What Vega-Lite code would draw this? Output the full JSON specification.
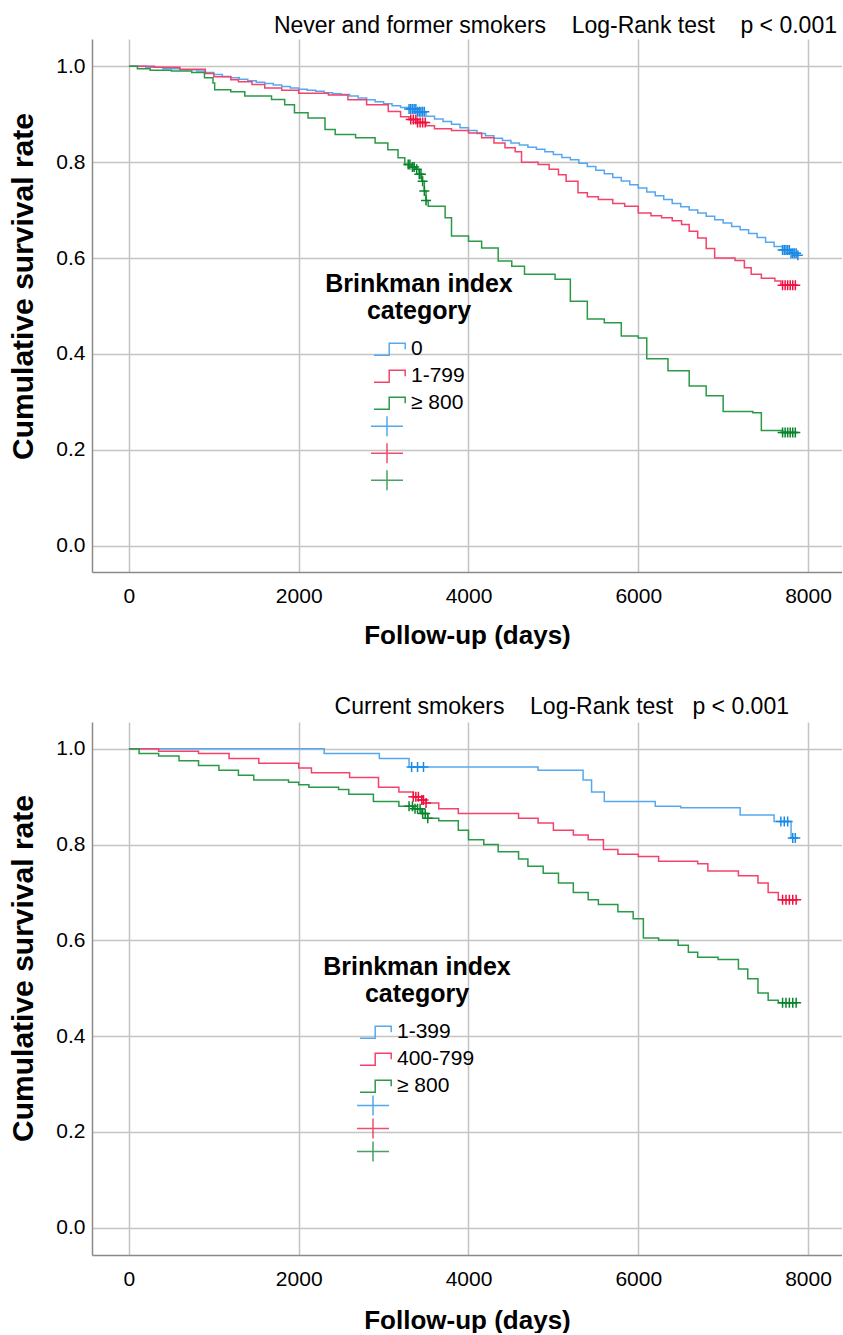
{
  "$schema": "https://vega.github.io/schema/vega-lite/v6.json",
  "background": "white",
  "padding": {"left": 8, "top": 15, "right": 0, "bottom": 0},
  "config": {
    "font": "Liberation Sans",
    "view": {"stroke": null},
    "axis": {
      "gridColor": "#c4c4c4", "gridWidth": 1.5,
      "domainColor": "#8a8a8a", "domainWidth": 1.5,
      "ticks": false, "tickSize": 0,
      "labelFontSize": 21, "labelColor": "#000000", "labelFont": "Liberation Sans",
      "titleFontSize": 26, "titleColor": "#000000", "titleFontWeight": "bold", "titleFont": "Liberation Sans"
    },
    "legend": {
      "orient": "none", "padding": 0,
      "labelFontSize": 21, "labelColor": "#000000", "labelFont": "Liberation Sans", "labelLimit": 300,
      "titleFontSize": 25, "titleFontWeight": "bold", "titleColor": "#000000", "titleFont": "Liberation Sans", "titleLimit": 400,
      "titleAlign": "center", "titleAnchor": "middle", "titleLineHeight": 27, "titlePadding": 12,
      "symbolSize": 1024, "symbolStrokeWidth": 1.5, "labelOffset": 4, "rowPadding": 0
    }
  },
  "datasets": {
    "top_curve": [
      {"group": "0", "day": 0, "s": 1}, {"group": "0", "day": 200, "s": 0.998}, {"group": "0", "day": 400, "s": 0.995}, {"group": "0", "day": 600, "s": 0.993}, {"group": "0", "day": 800, "s": 0.99}, {"group": "0", "day": 900, "s": 0.987}, {"group": "0", "day": 1000, "s": 0.983}, {"group": "0", "day": 1100, "s": 0.979}, {"group": "0", "day": 1200, "s": 0.976}, {"group": "0", "day": 1300, "s": 0.973}, {"group": "0", "day": 1400, "s": 0.97}, {"group": "0", "day": 1500, "s": 0.967}, {"group": "0", "day": 1600, "s": 0.964}, {"group": "0", "day": 1700, "s": 0.961}, {"group": "0", "day": 1800, "s": 0.958}, {"group": "0", "day": 1900, "s": 0.955}, {"group": "0", "day": 2000, "s": 0.952}, {"group": "0", "day": 2100, "s": 0.95}, {"group": "0", "day": 2200, "s": 0.948}, {"group": "0", "day": 2300, "s": 0.945}, {"group": "0", "day": 2400, "s": 0.943}, {"group": "0", "day": 2500, "s": 0.941}, {"group": "0", "day": 2600, "s": 0.938}, {"group": "0", "day": 2700, "s": 0.934}, {"group": "0", "day": 2800, "s": 0.93}, {"group": "0", "day": 2900, "s": 0.926}, {"group": "0", "day": 3000, "s": 0.922}, {"group": "0", "day": 3100, "s": 0.918}, {"group": "0", "day": 3200, "s": 0.914}, {"group": "0", "day": 3300, "s": 0.911}, {"group": "0", "day": 3400, "s": 0.905}, {"group": "0", "day": 3500, "s": 0.896}, {"group": "0", "day": 3600, "s": 0.89}, {"group": "0", "day": 3700, "s": 0.885}, {"group": "0", "day": 3800, "s": 0.879}, {"group": "0", "day": 3900, "s": 0.872}, {"group": "0", "day": 4000, "s": 0.866}, {"group": "0", "day": 4100, "s": 0.86}, {"group": "0", "day": 4200, "s": 0.855}, {"group": "0", "day": 4300, "s": 0.85}, {"group": "0", "day": 4400, "s": 0.845}, {"group": "0", "day": 4500, "s": 0.84}, {"group": "0", "day": 4600, "s": 0.836}, {"group": "0", "day": 4700, "s": 0.831}, {"group": "0", "day": 4800, "s": 0.827}, {"group": "0", "day": 4900, "s": 0.822}, {"group": "0", "day": 5000, "s": 0.816}, {"group": "0", "day": 5100, "s": 0.81}, {"group": "0", "day": 5200, "s": 0.805}, {"group": "0", "day": 5300, "s": 0.798}, {"group": "0", "day": 5400, "s": 0.791}, {"group": "0", "day": 5500, "s": 0.783}, {"group": "0", "day": 5600, "s": 0.776}, {"group": "0", "day": 5700, "s": 0.768}, {"group": "0", "day": 5800, "s": 0.761}, {"group": "0", "day": 5900, "s": 0.753}, {"group": "0", "day": 6000, "s": 0.746}, {"group": "0", "day": 6100, "s": 0.738}, {"group": "0", "day": 6200, "s": 0.73}, {"group": "0", "day": 6300, "s": 0.722}, {"group": "0", "day": 6400, "s": 0.714}, {"group": "0", "day": 6500, "s": 0.707}, {"group": "0", "day": 6600, "s": 0.7}, {"group": "0", "day": 6700, "s": 0.694}, {"group": "0", "day": 6800, "s": 0.687}, {"group": "0", "day": 6900, "s": 0.68}, {"group": "0", "day": 7000, "s": 0.673}, {"group": "0", "day": 7100, "s": 0.666}, {"group": "0", "day": 7200, "s": 0.659}, {"group": "0", "day": 7300, "s": 0.651}, {"group": "0", "day": 7400, "s": 0.643}, {"group": "0", "day": 7500, "s": 0.633}, {"group": "0", "day": 7600, "s": 0.624}, {"group": "0", "day": 7700, "s": 0.617}, {"group": "0", "day": 7800, "s": 0.61}, {"group": "0", "day": 7880, "s": 0.606},
      {"group": "1-799", "day": 0, "s": 1}, {"group": "1-799", "day": 300, "s": 0.998}, {"group": "1-799", "day": 600, "s": 0.994}, {"group": "1-799", "day": 900, "s": 0.985}, {"group": "1-799", "day": 1000, "s": 0.978}, {"group": "1-799", "day": 1200, "s": 0.972}, {"group": "1-799", "day": 1290, "s": 0.968}, {"group": "1-799", "day": 1450, "s": 0.962}, {"group": "1-799", "day": 1600, "s": 0.955}, {"group": "1-799", "day": 1800, "s": 0.95}, {"group": "1-799", "day": 2000, "s": 0.944}, {"group": "1-799", "day": 2350, "s": 0.94}, {"group": "1-799", "day": 2580, "s": 0.93}, {"group": "1-799", "day": 2800, "s": 0.92}, {"group": "1-799", "day": 3055, "s": 0.906}, {"group": "1-799", "day": 3200, "s": 0.895}, {"group": "1-799", "day": 3300, "s": 0.889}, {"group": "1-799", "day": 3400, "s": 0.883}, {"group": "1-799", "day": 3500, "s": 0.876}, {"group": "1-799", "day": 3600, "s": 0.87}, {"group": "1-799", "day": 3800, "s": 0.866}, {"group": "1-799", "day": 4000, "s": 0.861}, {"group": "1-799", "day": 4155, "s": 0.851}, {"group": "1-799", "day": 4300, "s": 0.84}, {"group": "1-799", "day": 4430, "s": 0.83}, {"group": "1-799", "day": 4550, "s": 0.822}, {"group": "1-799", "day": 4625, "s": 0.8}, {"group": "1-799", "day": 4820, "s": 0.795}, {"group": "1-799", "day": 4950, "s": 0.785}, {"group": "1-799", "day": 5060, "s": 0.774}, {"group": "1-799", "day": 5150, "s": 0.76}, {"group": "1-799", "day": 5290, "s": 0.736}, {"group": "1-799", "day": 5400, "s": 0.728}, {"group": "1-799", "day": 5530, "s": 0.722}, {"group": "1-799", "day": 5700, "s": 0.714}, {"group": "1-799", "day": 5840, "s": 0.708}, {"group": "1-799", "day": 6000, "s": 0.694}, {"group": "1-799", "day": 6150, "s": 0.688}, {"group": "1-799", "day": 6275, "s": 0.684}, {"group": "1-799", "day": 6400, "s": 0.678}, {"group": "1-799", "day": 6510, "s": 0.67}, {"group": "1-799", "day": 6600, "s": 0.656}, {"group": "1-799", "day": 6700, "s": 0.642}, {"group": "1-799", "day": 6800, "s": 0.62}, {"group": "1-799", "day": 6900, "s": 0.6}, {"group": "1-799", "day": 7140, "s": 0.595}, {"group": "1-799", "day": 7250, "s": 0.58}, {"group": "1-799", "day": 7330, "s": 0.566}, {"group": "1-799", "day": 7450, "s": 0.558}, {"group": "1-799", "day": 7610, "s": 0.552}, {"group": "1-799", "day": 7680, "s": 0.543}, {"group": "1-799", "day": 7880, "s": 0.543},
      {"group": "≥ 800", "day": 0, "s": 1}, {"group": "≥ 800", "day": 100, "s": 0.995}, {"group": "≥ 800", "day": 250, "s": 0.992}, {"group": "≥ 800", "day": 500, "s": 0.99}, {"group": "≥ 800", "day": 740, "s": 0.987}, {"group": "≥ 800", "day": 890, "s": 0.976}, {"group": "≥ 800", "day": 990, "s": 0.965}, {"group": "≥ 800", "day": 1010, "s": 0.951}, {"group": "≥ 800", "day": 1200, "s": 0.947}, {"group": "≥ 800", "day": 1365, "s": 0.938}, {"group": "≥ 800", "day": 1680, "s": 0.931}, {"group": "≥ 800", "day": 1835, "s": 0.92}, {"group": "≥ 800", "day": 1950, "s": 0.903}, {"group": "≥ 800", "day": 2110, "s": 0.892}, {"group": "≥ 800", "day": 2310, "s": 0.868}, {"group": "≥ 800", "day": 2430, "s": 0.858}, {"group": "≥ 800", "day": 2670, "s": 0.851}, {"group": "≥ 800", "day": 2900, "s": 0.84}, {"group": "≥ 800", "day": 3050, "s": 0.826}, {"group": "≥ 800", "day": 3170, "s": 0.809}, {"group": "≥ 800", "day": 3250, "s": 0.795}, {"group": "≥ 800", "day": 3330, "s": 0.79}, {"group": "≥ 800", "day": 3380, "s": 0.785}, {"group": "≥ 800", "day": 3420, "s": 0.775}, {"group": "≥ 800", "day": 3450, "s": 0.76}, {"group": "≥ 800", "day": 3480, "s": 0.74}, {"group": "≥ 800", "day": 3500, "s": 0.72}, {"group": "≥ 800", "day": 3525, "s": 0.708}, {"group": "≥ 800", "day": 3725, "s": 0.684}, {"group": "≥ 800", "day": 3800, "s": 0.646}, {"group": "≥ 800", "day": 4000, "s": 0.635}, {"group": "≥ 800", "day": 4155, "s": 0.621}, {"group": "≥ 800", "day": 4350, "s": 0.594}, {"group": "≥ 800", "day": 4510, "s": 0.583}, {"group": "≥ 800", "day": 4660, "s": 0.566}, {"group": "≥ 800", "day": 5020, "s": 0.556}, {"group": "≥ 800", "day": 5200, "s": 0.51}, {"group": "≥ 800", "day": 5400, "s": 0.473}, {"group": "≥ 800", "day": 5600, "s": 0.465}, {"group": "≥ 800", "day": 5800, "s": 0.4375}, {"group": "≥ 800", "day": 6000, "s": 0.433}, {"group": "≥ 800", "day": 6100, "s": 0.39}, {"group": "≥ 800", "day": 6350, "s": 0.365}, {"group": "≥ 800", "day": 6600, "s": 0.333}, {"group": "≥ 800", "day": 6800, "s": 0.3125}, {"group": "≥ 800", "day": 7000, "s": 0.28}, {"group": "≥ 800", "day": 7350, "s": 0.277}, {"group": "≥ 800", "day": 7450, "s": 0.24}, {"group": "≥ 800", "day": 7700, "s": 0.236}, {"group": "≥ 800", "day": 7880, "s": 0.236}
    ],
    "top_censor": [
      {"cgroup": "0", "day": 3300, "s": 0.911}, {"cgroup": "0", "day": 3320, "s": 0.911}, {"cgroup": "0", "day": 3340, "s": 0.911}, {"cgroup": "0", "day": 3360, "s": 0.911}, {"cgroup": "0", "day": 3380, "s": 0.911}, {"cgroup": "0", "day": 3400, "s": 0.905}, {"cgroup": "0", "day": 3420, "s": 0.905}, {"cgroup": "0", "day": 3440, "s": 0.905}, {"cgroup": "0", "day": 3460, "s": 0.905}, {"cgroup": "0", "day": 3480, "s": 0.905},
      {"cgroup": "0", "day": 7700, "s": 0.617}, {"cgroup": "0", "day": 7720, "s": 0.617}, {"cgroup": "0", "day": 7740, "s": 0.617}, {"cgroup": "0", "day": 7760, "s": 0.617}, {"cgroup": "0", "day": 7780, "s": 0.617}, {"cgroup": "0", "day": 7800, "s": 0.61}, {"cgroup": "0", "day": 7820, "s": 0.61}, {"cgroup": "0", "day": 7840, "s": 0.61}, {"cgroup": "0", "day": 7860, "s": 0.61}, {"cgroup": "0", "day": 7880, "s": 0.606},
      {"cgroup": "1-799", "day": 3320, "s": 0.889}, {"cgroup": "1-799", "day": 3350, "s": 0.889}, {"cgroup": "1-799", "day": 3380, "s": 0.889}, {"cgroup": "1-799", "day": 3400, "s": 0.883}, {"cgroup": "1-799", "day": 3430, "s": 0.883}, {"cgroup": "1-799", "day": 3460, "s": 0.883}, {"cgroup": "1-799", "day": 3490, "s": 0.883},
      {"cgroup": "1-799", "day": 7700, "s": 0.543}, {"cgroup": "1-799", "day": 7730, "s": 0.543}, {"cgroup": "1-799", "day": 7760, "s": 0.543}, {"cgroup": "1-799", "day": 7790, "s": 0.543}, {"cgroup": "1-799", "day": 7820, "s": 0.543}, {"cgroup": "1-799", "day": 7850, "s": 0.543},
      {"cgroup": "≥ 800", "day": 3290, "s": 0.795}, {"cgroup": "≥ 800", "day": 3310, "s": 0.795}, {"cgroup": "≥ 800", "day": 3340, "s": 0.79}, {"cgroup": "≥ 800", "day": 3360, "s": 0.79}, {"cgroup": "≥ 800", "day": 3390, "s": 0.785}, {"cgroup": "≥ 800", "day": 3420, "s": 0.775}, {"cgroup": "≥ 800", "day": 3440, "s": 0.775}, {"cgroup": "≥ 800", "day": 3460, "s": 0.76}, {"cgroup": "≥ 800", "day": 3480, "s": 0.74}, {"cgroup": "≥ 800", "day": 3500, "s": 0.72},
      {"cgroup": "≥ 800", "day": 7700, "s": 0.236}, {"cgroup": "≥ 800", "day": 7730, "s": 0.236}, {"cgroup": "≥ 800", "day": 7760, "s": 0.236}, {"cgroup": "≥ 800", "day": 7790, "s": 0.236}, {"cgroup": "≥ 800", "day": 7820, "s": 0.236}, {"cgroup": "≥ 800", "day": 7850, "s": 0.236}
    ],
    "bot_curve": [
      {"group": "1-399", "day": 0, "s": 1}, {"group": "1-399", "day": 2300, "s": 0.99}, {"group": "1-399", "day": 2950, "s": 0.98}, {"group": "1-399", "day": 3300, "s": 0.962}, {"group": "1-399", "day": 4820, "s": 0.955}, {"group": "1-399", "day": 5350, "s": 0.935}, {"group": "1-399", "day": 5450, "s": 0.91}, {"group": "1-399", "day": 5600, "s": 0.89}, {"group": "1-399", "day": 6200, "s": 0.88}, {"group": "1-399", "day": 6500, "s": 0.877}, {"group": "1-399", "day": 7200, "s": 0.862}, {"group": "1-399", "day": 7600, "s": 0.848}, {"group": "1-399", "day": 7800, "s": 0.814}, {"group": "1-399", "day": 7880, "s": 0.814},
      {"group": "400-799", "day": 0, "s": 1}, {"group": "400-799", "day": 350, "s": 0.995}, {"group": "400-799", "day": 820, "s": 0.99}, {"group": "400-799", "day": 1180, "s": 0.98}, {"group": "400-799", "day": 1530, "s": 0.97}, {"group": "400-799", "day": 2000, "s": 0.96}, {"group": "400-799", "day": 2150, "s": 0.95}, {"group": "400-799", "day": 2600, "s": 0.94}, {"group": "400-799", "day": 2940, "s": 0.92}, {"group": "400-799", "day": 3180, "s": 0.91}, {"group": "400-799", "day": 3350, "s": 0.9}, {"group": "400-799", "day": 3450, "s": 0.893}, {"group": "400-799", "day": 3500, "s": 0.887}, {"group": "400-799", "day": 3650, "s": 0.875}, {"group": "400-799", "day": 3880, "s": 0.865}, {"group": "400-799", "day": 4590, "s": 0.855}, {"group": "400-799", "day": 4820, "s": 0.845}, {"group": "400-799", "day": 5000, "s": 0.83}, {"group": "400-799", "day": 5235, "s": 0.82}, {"group": "400-799", "day": 5410, "s": 0.81}, {"group": "400-799", "day": 5590, "s": 0.79}, {"group": "400-799", "day": 5760, "s": 0.78}, {"group": "400-799", "day": 6000, "s": 0.775}, {"group": "400-799", "day": 6240, "s": 0.765}, {"group": "400-799", "day": 6700, "s": 0.76}, {"group": "400-799", "day": 6820, "s": 0.745}, {"group": "400-799", "day": 7180, "s": 0.735}, {"group": "400-799", "day": 7410, "s": 0.72}, {"group": "400-799", "day": 7530, "s": 0.7}, {"group": "400-799", "day": 7650, "s": 0.685}, {"group": "400-799", "day": 7880, "s": 0.685},
      {"group": "≥ 800", "day": 0, "s": 1}, {"group": "≥ 800", "day": 120, "s": 0.99}, {"group": "≥ 800", "day": 350, "s": 0.985}, {"group": "≥ 800", "day": 590, "s": 0.975}, {"group": "≥ 800", "day": 820, "s": 0.965}, {"group": "≥ 800", "day": 1060, "s": 0.955}, {"group": "≥ 800", "day": 1290, "s": 0.945}, {"group": "≥ 800", "day": 1470, "s": 0.935}, {"group": "≥ 800", "day": 1880, "s": 0.93}, {"group": "≥ 800", "day": 2000, "s": 0.925}, {"group": "≥ 800", "day": 2120, "s": 0.92}, {"group": "≥ 800", "day": 2470, "s": 0.915}, {"group": "≥ 800", "day": 2590, "s": 0.905}, {"group": "≥ 800", "day": 2880, "s": 0.89}, {"group": "≥ 800", "day": 3180, "s": 0.88}, {"group": "≥ 800", "day": 3350, "s": 0.875}, {"group": "≥ 800", "day": 3450, "s": 0.865}, {"group": "≥ 800", "day": 3520, "s": 0.855}, {"group": "≥ 800", "day": 3650, "s": 0.85}, {"group": "≥ 800", "day": 3880, "s": 0.83}, {"group": "≥ 800", "day": 4000, "s": 0.81}, {"group": "≥ 800", "day": 4180, "s": 0.8}, {"group": "≥ 800", "day": 4350, "s": 0.785}, {"group": "≥ 800", "day": 4590, "s": 0.77}, {"group": "≥ 800", "day": 4700, "s": 0.755}, {"group": "≥ 800", "day": 4880, "s": 0.74}, {"group": "≥ 800", "day": 5060, "s": 0.72}, {"group": "≥ 800", "day": 5235, "s": 0.7}, {"group": "≥ 800", "day": 5410, "s": 0.685}, {"group": "≥ 800", "day": 5530, "s": 0.675}, {"group": "≥ 800", "day": 5760, "s": 0.66}, {"group": "≥ 800", "day": 5940, "s": 0.645}, {"group": "≥ 800", "day": 6060, "s": 0.605}, {"group": "≥ 800", "day": 6240, "s": 0.6}, {"group": "≥ 800", "day": 6470, "s": 0.59}, {"group": "≥ 800", "day": 6590, "s": 0.575}, {"group": "≥ 800", "day": 6700, "s": 0.565}, {"group": "≥ 800", "day": 6940, "s": 0.56}, {"group": "≥ 800", "day": 7180, "s": 0.54}, {"group": "≥ 800", "day": 7290, "s": 0.52}, {"group": "≥ 800", "day": 7410, "s": 0.49}, {"group": "≥ 800", "day": 7530, "s": 0.475}, {"group": "≥ 800", "day": 7650, "s": 0.47}, {"group": "≥ 800", "day": 7880, "s": 0.47}
    ],
    "bot_censor": [
      {"cgroup": "1-399", "day": 3330, "s": 0.962}, {"cgroup": "1-399", "day": 3400, "s": 0.962}, {"cgroup": "1-399", "day": 3470, "s": 0.962}, {"cgroup": "1-399", "day": 7680, "s": 0.848}, {"cgroup": "1-399", "day": 7720, "s": 0.848}, {"cgroup": "1-399", "day": 7760, "s": 0.848}, {"cgroup": "1-399", "day": 7820, "s": 0.814}, {"cgroup": "1-399", "day": 7850, "s": 0.814},
      {"cgroup": "400-799", "day": 3350, "s": 0.9}, {"cgroup": "400-799", "day": 3380, "s": 0.9}, {"cgroup": "400-799", "day": 3410, "s": 0.9}, {"cgroup": "400-799", "day": 3450, "s": 0.893}, {"cgroup": "400-799", "day": 3470, "s": 0.893}, {"cgroup": "400-799", "day": 3500, "s": 0.887},
      {"cgroup": "400-799", "day": 7700, "s": 0.685}, {"cgroup": "400-799", "day": 7740, "s": 0.685}, {"cgroup": "400-799", "day": 7780, "s": 0.685}, {"cgroup": "400-799", "day": 7820, "s": 0.685}, {"cgroup": "400-799", "day": 7860, "s": 0.685},
      {"cgroup": "≥ 800", "day": 3300, "s": 0.88}, {"cgroup": "≥ 800", "day": 3340, "s": 0.88}, {"cgroup": "≥ 800", "day": 3370, "s": 0.875}, {"cgroup": "≥ 800", "day": 3400, "s": 0.875}, {"cgroup": "≥ 800", "day": 3430, "s": 0.875}, {"cgroup": "≥ 800", "day": 3460, "s": 0.865}, {"cgroup": "≥ 800", "day": 3490, "s": 0.865}, {"cgroup": "≥ 800", "day": 3520, "s": 0.855},
      {"cgroup": "≥ 800", "day": 7700, "s": 0.47}, {"cgroup": "≥ 800", "day": 7740, "s": 0.47}, {"cgroup": "≥ 800", "day": 7780, "s": 0.47}, {"cgroup": "≥ 800", "day": 7820, "s": 0.47}, {"cgroup": "≥ 800", "day": 7860, "s": 0.47}
    ]
  },
  "spacing": 150,
  "bounds": "flush",
  "resolve": {"scale": {"color": "independent", "stroke": "independent", "x": "independent", "y": "independent"}, "legend": {"color": "independent", "stroke": "independent"}},
  "vconcat": [
    {
      "width": 750, "height": 533,
      "title": {"text": "Never and former smokers\u00a0\u00a0\u00a0\u00a0Log-Rank test\u00a0\u00a0\u00a0\u00a0p < 0.001", "anchor": "end", "fontSize": 23, "fontWeight": "normal", "font": "Liberation Sans", "color": "#000000", "dx": -5, "offset": 1},
      "layer": [
        {
          "data": {"name": "top_curve"},
          "mark": {"type": "line", "interpolate": "step-after", "strokeWidth": 1.5},
          "encoding": {
            "x": {"field": "day", "type": "quantitative", "scale": {"domain": [-435, 8400], "nice": false, "zero": false},
                  "axis": {"values": [0, 2000, 4000, 6000, 8000], "format": "d", "title": "Follow-up (days)", "labelPadding": 13, "titlePadding": 16}},
            "y": {"field": "s", "type": "quantitative", "scale": {"domain": [-0.055, 1.057], "nice": false, "zero": false},
                  "axis": {"values": [0, 0.2, 0.4, 0.6, 0.8, 1.0], "format": ".1f", "title": "Cumulative survival rate", "titleFontSize": 30, "titleY": 247, "labelPadding": 7, "titlePadding": 17}},
            "color": {"field": "group", "type": "nominal",
                      "scale": {"domain": ["0", "1-799", "≥ 800"], "range": ["#55a8f0", "#f5426a", "#2a9a48"]},
                      "legend": {"title": ["Brinkman index", "category"], "symbolType": "M-1,0.375H-0.05V-0.375H0.95V0", "symbolFillColor": "transparent", "legendX": 233, "legendY": 233, "clipHeight": 26.5}}
          }
        },
        {
          "data": {"name": "top_censor"},
          "mark": {"type": "point", "shape": "M-1,0H1M0,-1V1", "filled": false, "size": 100, "strokeWidth": 1.5, "opacity": 1},
          "encoding": {
            "x": {"field": "day", "type": "quantitative"},
            "y": {"field": "s", "type": "quantitative"},
            "stroke": {"field": "cgroup", "type": "nominal",
                       "scale": {"range": ["#1a8ae6", "#f0103e", "#08842c"]},
                       "legend": {"title": null, "labelExpr": "''", "symbolType": "M-1,0H1M0,-0.625V0.625", "symbolOpacity": 0.75, "legendX": 278, "legendY": 374, "clipHeight": 26.5}}
          }
        }
      ]
    },
    {
      "width": 750, "height": 533,
      "title": {"text": "Current smokers\u00a0\u00a0\u00a0\u00a0Log-Rank test\u00a0\u00a0\u00a0p < 0.001", "anchor": "end", "fontSize": 23, "fontWeight": "normal", "font": "Liberation Sans", "color": "#000000", "dx": -53, "offset": 3},
      "layer": [
        {
          "data": {"name": "bot_curve"},
          "mark": {"type": "line", "interpolate": "step-after", "strokeWidth": 1.5},
          "encoding": {
            "x": {"field": "day", "type": "quantitative", "scale": {"domain": [-435, 8400], "nice": false, "zero": false},
                  "axis": {"values": [0, 2000, 4000, 6000, 8000], "format": "d", "title": "Follow-up (days)", "labelPadding": 13, "titlePadding": 18}},
            "y": {"field": "s", "type": "quantitative", "scale": {"domain": [-0.057, 1.056], "nice": false, "zero": false},
                  "axis": {"values": [0, 0.2, 0.4, 0.6, 0.8, 1.0], "format": ".1f", "title": "Cumulative survival rate", "titleFontSize": 30, "titleY": 246, "labelPadding": 7, "titlePadding": 17}},
            "color": {"field": "group", "type": "nominal",
                      "scale": {"domain": ["1-399", "400-799", "≥ 800"], "range": ["#55a8f0", "#f5426a", "#2a9a48"]},
                      "legend": {"title": ["Brinkman index", "category"], "symbolType": "M-1,0.375H-0.05V-0.375H0.95V0", "symbolFillColor": "transparent", "legendX": 231, "legendY": 233, "clipHeight": 26.5}}
          }
        },
        {
          "data": {"name": "bot_censor"},
          "mark": {"type": "point", "shape": "M-1,0H1M0,-1V1", "filled": false, "size": 100, "strokeWidth": 1.5, "opacity": 1},
          "encoding": {
            "x": {"field": "day", "type": "quantitative"},
            "y": {"field": "s", "type": "quantitative"},
            "stroke": {"field": "cgroup", "type": "nominal",
                       "scale": {"range": ["#1a8ae6", "#f0103e", "#08842c"]},
                       "legend": {"title": null, "labelExpr": "''", "symbolType": "M-1,0H1M0,-0.625V0.625", "symbolOpacity": 0.75, "legendX": 264, "legendY": 372, "clipHeight": 23}}
          }
        }
      ]
    }
  ]
}
